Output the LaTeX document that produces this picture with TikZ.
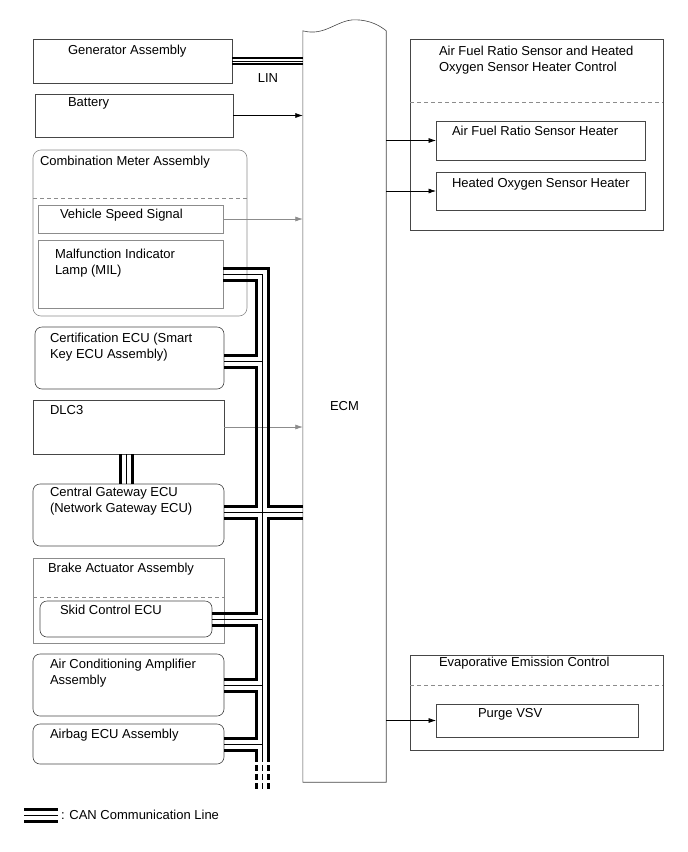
\documentclass[tikz,border=0pt]{standalone}
\usepackage{fontspec}
\setmainfont{Liberation Sans}
\usepackage{xcolor}
\usetikzlibrary{arrows.meta,positioning}
\definecolor{boxgray}{RGB}{70,70,70}
\definecolor{grpgray}{RGB}{140,140,140}

\begin{document}
\begin{tikzpicture}[x=1pt,y=-1pt,font=\fontsize{13}{16}\selectfont,>={Latex[length=7.5pt,width=5pt]},
  box/.style={draw=boxgray,line width=0.6pt,inner sep=0pt,outer sep=0pt},
  rbox/.style={box,rounded corners=7pt},
  grp/.style={draw=grpgray,line width=0.6pt,inner sep=0pt,outer sep=0pt},
  lbl/.style={inner sep=0pt,outer sep=0pt,align=left},
  sepline/.style={draw=grpgray,dash pattern=on 4pt off 3pt,line width=0.5pt},
  sig/.style={->,line width=0.6pt},
  canthick/.style={line width=3pt},
  canthin/.style={line width=1pt},
  linthick/.style={line width=2pt},
  linthin/.style={line width=0.8pt}]
\useasboundingbox (0,0) rectangle (688,852);

% left column
\node[box,minimum width=199pt,minimum height=44pt] (gen) at (132.5,61) {};
\node[box,minimum width=198pt,minimum height=43pt] (bat) at (134,115.5) {};
\node[grp,rounded corners=8pt,minimum width=214pt,minimum height=166pt] (cmb) at (140,233) {};
\node[grp,minimum width=185pt,minimum height=28pt] (vss) at (130.5,219) {};
\node[grp,minimum width=185pt,minimum height=68pt] (mil) at (130.5,274) {};
\node[rbox,minimum width=189pt,minimum height=62pt] (cert) at (129.5,358) {};
\node[box,minimum width=191pt,minimum height=54pt] (dlc) at (128.5,427) {};
\node[rbox,minimum width=191pt,minimum height=62pt] (cgw) at (128.5,515) {};
\node[grp,minimum width=191pt,minimum height=85pt] (brk) at (128.5,600.5) {};
\node[rbox,minimum width=172pt,minimum height=36pt] (skid) at (126,619) {};
\node[rbox,minimum width=191pt,minimum height=62pt] (ac) at (128.5,685) {};
\node[rbox,minimum width=191pt,minimum height=40pt] (abg) at (128.5,744) {};

\draw[sepline] ([yshift=-48pt]cmb.north west) -- ([yshift=-48pt]cmb.north east);
\draw[sepline] ([yshift=-39pt]brk.north west) -- ([yshift=-39pt]brk.north east);

\node[lbl,below right=6pt and 35pt of gen.north west] (genl) {Generator Assembly};
\node[lbl,below right=4pt and 33pt of bat.north west] (batl) {Battery};
\node[lbl,below right=6pt and 7pt of cmb.north west] (cmbl) {Combination Meter Assembly};
\node[lbl,below right=4pt and 22pt of vss.north west] (vssl) {Vehicle Speed Signal};
\node[lbl,below right=9pt and 17pt of mil.north west] (mill) {Malfunction Indicator\\Lamp (MIL)};
\node[lbl,below right=6pt and 15pt of cert.north west] (certl) {Certification ECU (Smart\\Key ECU Assembly)};
\node[lbl,below right=5pt and 17pt of dlc.north west] (dlcl) {DLC3};
\node[lbl,below right=3pt and 17pt of cgw.north west] (cgwl) {Central Gateway ECU\\(Network Gateway ECU)};
\node[lbl,below right=5pt and 15pt of brk.north west] (brkl) {Brake Actuator Assembly};
\node[lbl,below right=4pt and 20pt of skid.north west] (skidl) {Skid Control ECU};
\node[lbl,below right=5pt and 17pt of ac.north west] (acl) {Air Conditioning Amplifier\\Assembly};
\node[lbl,below right=5pt and 17pt of abg.north west] (abgl) {Airbag ECU Assembly};

% ECM with wavy top
\node[inner sep=0pt,minimum width=83pt,minimum height=751pt] (ecm) at (344.5,406.5) {ECM};
\draw[draw=boxgray,line width=0.6pt] (ecm.north west) .. controls +(22,6) and +(-18,0) .. ++(52,-11)
  .. controls +(15,0) and +(-6,-5) .. (ecm.north east) -- (ecm.south east) -- (ecm.south west) -- cycle;

% right column
\node[box,minimum width=253pt,minimum height=191pt] (afr) at (536.5,134.5) {};
\node[box,minimum width=209pt,minimum height=39pt] (afrh) at (540.5,140.5) {};
\node[box,minimum width=209pt,minimum height=38pt] (hos) at (540.5,191) {};
\node[box,minimum width=253pt,minimum height=95pt] (evap) at (536.5,702.5) {};
\node[box,minimum width=202pt,minimum height=33pt] (purge) at (537,720.5) {};

\draw[sepline] ([yshift=-63pt]afr.north west) -- ([yshift=-63pt]afr.north east);
\draw[sepline] ([yshift=-30pt]evap.north west) -- ([yshift=-30pt]evap.north east);

\node[lbl,below right=7pt and 29pt of afr.north west] (afrl) {Air Fuel Ratio Sensor and Heated\\Oxygen Sensor Heater Control};
\node[lbl,below right=5pt and 16pt of afrh.north west] (afrhl) {Air Fuel Ratio Sensor Heater};
\node[lbl,below right=6pt and 16pt of hos.north west] (hosl) {Heated Oxygen Sensor Heater};
\node[lbl,below right=2pt and 29pt of evap.north west] (evapl) {Evaporative Emission Control};
\node[lbl,below right=4pt and 42pt of purge.north west] (purgel) {Purge VSV};

% signal lines
\draw[sig] (bat.east) -- (bat.east -| ecm.west);
\draw[sig,draw=grpgray] (vss.east) -- (vss.east -| ecm.west);
\draw[sig,draw=grpgray] (dlc.east) -- (dlc.east -| ecm.west);
\draw[sig] (afrh.west -| ecm.east) -- (afrh.west);
\draw[sig] (hos.west -| ecm.east) -- (hos.west);
\draw[sig] (purge.west -| ecm.east) -- (purge.west);

% LIN
\coordinate (linE) at (gen.east -| ecm.west);
\draw[linthick] ([yshift=3pt]gen.east) -- ([yshift=3pt]linE);
\draw[linthin] (gen.east) -- (linE);
\draw[linthick] ([yshift=-3pt]gen.east) -- ([yshift=-3pt]linE);
\node[lbl] (linl) at (268,78) {LIN};

% CAN bus
\coordinate (busA) at (256.5,0);
\coordinate (busT) at (262.5,0);
\coordinate (busB) at (268.5,0);
\coordinate (busend) at (0,762);
% outer line
\draw[canthick] ([yshift=6pt]mil.east) -| ([yshift=9pt]cgw.east -| busB) -- ([yshift=9pt]cgw.east -| ecm.west);
\draw[canthick] ([yshift=-3pt]cgw.east -| ecm.west) -| (busB |- busend);
% thin line
\draw[canthin] (mil.east) -| (busT |- busend);
\draw[canthin] ([yshift=-3pt]cert.east) -- ([yshift=-3pt]cert.east -| busT);
\draw[canthin] ([yshift=3pt]cgw.east) -- ([yshift=3pt]cgw.east -| ecm.west);
\draw[canthin] (skid.east) -- (skid.east -| busT);
\draw[canthin] (ac.east) -- (ac.east -| busT);
\draw[canthin] (abg.east) -- (abg.east -| busT);
% inner line, through each ECU
\draw[canthick] ([yshift=-6pt]mil.east) -| ([yshift=3pt]cert.east -| busA) -- ([yshift=3pt]cert.east);
\draw[canthick] ([yshift=-9pt]cert.east) -| ([yshift=9pt]cgw.east -| busA) -- ([yshift=9pt]cgw.east);
\draw[canthick] ([yshift=-3pt]cgw.east) -| ([yshift=6pt]skid.east -| busA) -- ([yshift=6pt]skid.east);
\draw[canthick] ([yshift=-6pt]skid.east) -| ([yshift=6pt]ac.east -| busA) -- ([yshift=6pt]ac.east);
\draw[canthick] ([yshift=-6pt]ac.east) -| ([yshift=6pt]abg.east -| busA) -- ([yshift=6pt]abg.east);
\draw[canthick] ([yshift=-6pt]abg.east) -| (busA |- busend);
% continued
\draw[canthick,dash pattern=on 6pt off 3pt] ([yshift=-3pt]busA |- busend) -- ++(0,26);
\draw[canthin,dash pattern=on 6pt off 3pt] ([yshift=-3pt]busT |- busend) -- ++(0,26);
\draw[canthick,dash pattern=on 6pt off 3pt] ([yshift=-3pt]busB |- busend) -- ++(0,26);

% DLC3 to gateway
\draw[canthick] ([xshift=-8.5pt]dlc.south) -- ([xshift=-8.5pt]cgw.north);
\draw[canthin] ([xshift=-2.5pt]dlc.south) -- ([xshift=-2.5pt]cgw.north);
\draw[canthick] ([xshift=3.5pt]dlc.south) -- ([xshift=3.5pt]cgw.north);

% legend
\draw[canthick] (24,809) -- (58,809);
\draw[canthin] (24,815) -- (58,815);
\draw[canthick] (24,821) -- (58,821);
\node[lbl,anchor=west] (legl) at (61,815) {: CAN Communication Line};
\end{tikzpicture}
\end{document}
